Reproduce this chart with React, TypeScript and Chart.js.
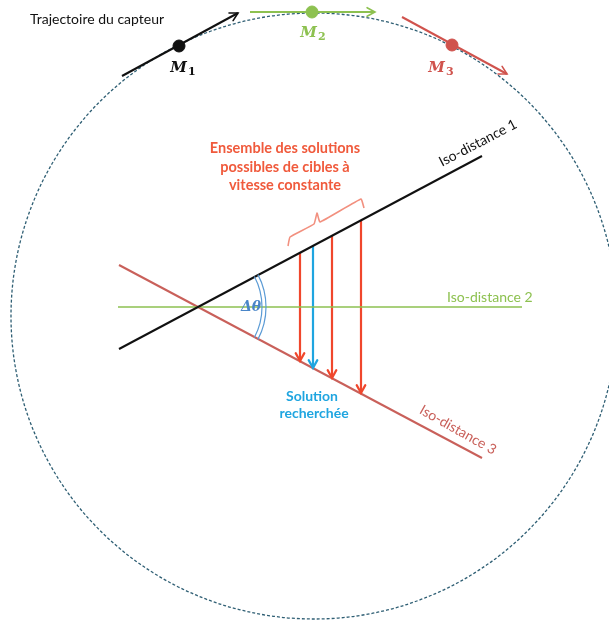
import React, { useEffect, useRef } from "react";
import { Chart, registerables } from "chart.js";

Chart.register(...registerables);

const W = 609;
const H = 621;

// Sensor trajectory (circle) and sensor positions
const circleCenterX = 314;
const circleCenterY = 316;
const circleRadius = 303;

const sensorNames = ["M", "M", "M"];
const sensorSubs = ["1", "2", "3"];
const sensorX = [179, 312, 452];
const sensorY = [46, 12, 45];
const trajStartX = [122, 250, 402];
const trajStartY = [76, 12, 17];
const trajEndX = [238, 375, 507];
const trajEndY = [13, 12, 74];
const sensorLabelX = [183, 313, 441];
const sensorLabelY = [68, 33, 68];
const sensorColors = ["#111111", "#8dc150", "#d0534d"];

// Iso-distance lines
const isoNames = ["Iso-distance 1", "Iso-distance 2", "Iso-distance 3"];
const isoStartX = [119, 118, 119];
const isoStartY = [349, 307, 265];
const isoEndX = [482, 522, 482];
const isoEndY = [156, 307, 458];
const isoColors = ["#111111", "#8dc150", "#c9605a"];

// Solutions (vertical arrows)
const arrowX = [300, 313, 332, 361];
const arrowTopY = [253, 246, 236, 220];
const arrowBottomY = [361, 368, 378, 393];
const RED = "#f0472c";
const BLUE = "#1fa5e0";
const arrowColors = [RED, BLUE, RED, RED];

// Bracket
const bracketX = [288, 290, 314, 317, 320, 361, 364];
const bracketY = [246, 237, 224, 213, 222, 199, 208];

// Angle
const angleCenterX = 197;
const angleCenterY = 307;
const angleRadii = [65, 69];
const angleHalfDeg = 28;

const FONT = "Lato, 'Open Sans', sans-serif";

export default function App() {
  const ref = useRef<HTMLCanvasElement | null>(null);

  useEffect(() => {
    const canvas = ref.current;
    if (!canvas) return;

    const seg = (x1: number, y1: number, x2: number, y2: number, color: string, width: number) => ({
      type: "line" as const,
      data: [
        { x: x1, y: y1 },
        { x: x2, y: y2 },
      ],
      showLine: true,
      borderColor: color,
      backgroundColor: color,
      borderWidth: width,
      pointRadius: 0,
      borderCapStyle: "butt" as const,
      clip: false as any,
    });

    const datasets: any[] = [];
    isoNames.forEach((_, i) =>
      datasets.push(seg(isoStartX[i], isoStartY[i], isoEndX[i], isoEndY[i], isoColors[i], i === 1 ? 1.5 : 2))
    );
    trajStartX.forEach((_, i) =>
      datasets.push(seg(trajStartX[i], trajStartY[i], trajEndX[i], trajEndY[i], sensorColors[i], 2))
    );
    arrowX.forEach((x, i) => datasets.push(seg(x, arrowTopY[i], x, arrowBottomY[i], arrowColors[i], 2.2)));
    datasets.push({
      type: "line",
      data: bracketX.map((x, i) => ({ x, y: bracketY[i] })),
      showLine: true,
      borderColor: "#f2907f",
      borderWidth: 1.6,
      pointRadius: 0,
      tension: 0.1,
      clip: false,
    });
    datasets.push({
      type: "scatter",
      data: sensorX.map((x, i) => ({ x, y: sensorY[i] })),
      pointRadius: 6,
      pointBackgroundColor: sensorColors,
      pointBorderColor: sensorColors,
      clip: false,
    });

    const decor = {
      id: "decor",
      beforeDraw(chart: any) {
        const c = chart.ctx;
        c.save();
        c.fillStyle = "#ffffff";
        c.fillRect(0, 0, chart.width, chart.height);
        c.restore();
      },
      beforeDatasetsDraw(chart: any) {
        const c = chart.ctx;
        const xs = chart.scales.x;
        const ys = chart.scales.y;
        const cx = xs.getPixelForValue(circleCenterX);
        const cy = ys.getPixelForValue(circleCenterY);
        const r = xs.getPixelForValue(circleCenterX + circleRadius) - cx;
        c.save();
        c.strokeStyle = "#2f5f74";
        c.lineWidth = 1.3;
        c.setLineDash([3, 2]);
        c.beginPath();
        c.arc(cx, cy, r, 0, Math.PI * 2);
        c.stroke();
        c.restore();
      },
      afterDatasetsDraw(chart: any) {
        const c = chart.ctx;
        const xs = chart.scales.x;
        const ys = chart.scales.y;
        const px = (v: number) => xs.getPixelForValue(v);
        const py = (v: number) => ys.getPixelForValue(v);

        const chevron = (x1: number, y1: number, x2: number, y2: number, color: string, len: number, width: number) => {
          const a = Math.atan2(py(y2) - py(y1), px(x2) - px(x1));
          const tx = px(x2);
          const ty = py(y2);
          const spread = 0.5;
          c.save();
          c.strokeStyle = color;
          c.lineWidth = width;
          c.lineCap = "round";
          c.lineJoin = "miter";
          c.beginPath();
          c.moveTo(tx - len * Math.cos(a - spread), ty - len * Math.sin(a - spread));
          c.lineTo(tx, ty);
          c.lineTo(tx - len * Math.cos(a + spread), ty - len * Math.sin(a + spread));
          c.stroke();
          c.restore();
        };

        trajStartX.forEach((_, i) =>
          chevron(trajStartX[i], trajStartY[i], trajEndX[i], trajEndY[i], sensorColors[i], 9, 1.6)
        );
        arrowX.forEach((x, i) => chevron(x, arrowTopY[i], x, arrowBottomY[i], arrowColors[i], 9, 2.2));

        // angle arcs
        c.save();
        c.strokeStyle = "#5b9bd5";
        c.lineWidth = 1.2;
        const acx = px(angleCenterX);
        const acy = py(angleCenterY);
        const h = (angleHalfDeg * Math.PI) / 180;
        angleRadii.forEach((r) => {
          c.beginPath();
          c.arc(acx, acy, r, -h, h);
          c.stroke();
        });
        c.restore();

        const text = (
          s: string,
          x: number,
          y: number,
          font: string,
          color: string,
          align: CanvasTextAlign = "center",
          rot = 0
        ) => {
          c.save();
          c.translate(px(x), py(y));
          c.rotate((rot * Math.PI) / 180);
          c.font = font;
          c.fillStyle = color;
          c.textAlign = align;
          c.textBaseline = "middle";
          c.fillText(s, 0, 0);
          c.restore();
        };

        text("Trajectoire du capteur", 30, 19, `14px ${FONT}`, "#111111", "left");

        sensorNames.forEach((m, i) => {
          c.save();
          c.font = "bold italic 15px 'DejaVu Serif', serif";
          const mw = c.measureText(m).width;
          c.font = "bold 11px 'DejaVu Serif', serif";
          const sw = c.measureText(sensorSubs[i]).width;
          const left = px(sensorLabelX[i]) - (mw + sw + 1) / 2;
          const y = py(sensorLabelY[i]);
          c.fillStyle = sensorColors[i];
          c.textBaseline = "middle";
          c.textAlign = "left";
          c.font = "bold italic 15px 'DejaVu Serif', serif";
          c.fillText(m, left, y);
          c.font = "bold 11px 'DejaVu Serif', serif";
          c.fillText(sensorSubs[i], left + mw + 1, y + 4);
          c.restore();
        });

        const titleColor = "#f05a3c";
        const tf = `bold 14.5px ${FONT}`;
        text("Ensemble des solutions", 285, 148, tf, titleColor);
        text("possibles de cibles à", 285, 167, tf, titleColor);
        text("vitesse constante", 285, 185, tf, titleColor);

        text("Solution", 312, 396, `bold 14px ${FONT}`, BLUE);
        text("recherchée", 314, 413, `bold 14px ${FONT}`, BLUE);

        text(isoNames[0], 478, 143, `14px ${FONT}`, isoColors[0], "center", -27.5);
        text(isoNames[1], 447, 297, `14px ${FONT}`, isoColors[1], "left");
        text(isoNames[2], 458, 430, `14px ${FONT}`, isoColors[2], "center", 29.5);

        text("Δθ", 251, 307, `bold italic 14px 'DejaVu Serif', serif`, "#4a86c8");
      },
    };

    const chart = new Chart(canvas, {
      type: "scatter",
      data: { datasets },
      options: {
        responsive: false,
        animation: false,
        events: [],
        layout: { padding: 0, autoPadding: false },
        plugins: { legend: { display: false }, tooltip: { enabled: false } },
        scales: {
          x: { type: "linear", min: 0, max: W, display: false },
          y: { type: "linear", min: 0, max: H, reverse: true, display: false },
        },
      },
      plugins: [decor],
    } as any);

    return () => chart.destroy();
  }, []);

  return (
    <div style={{ position: "absolute", left: 0, top: 0, width: W, height: H }}>
      <canvas ref={ref} width={W} height={H} style={{ display: "block", width: W, height: H }} />
    </div>
  );
}
